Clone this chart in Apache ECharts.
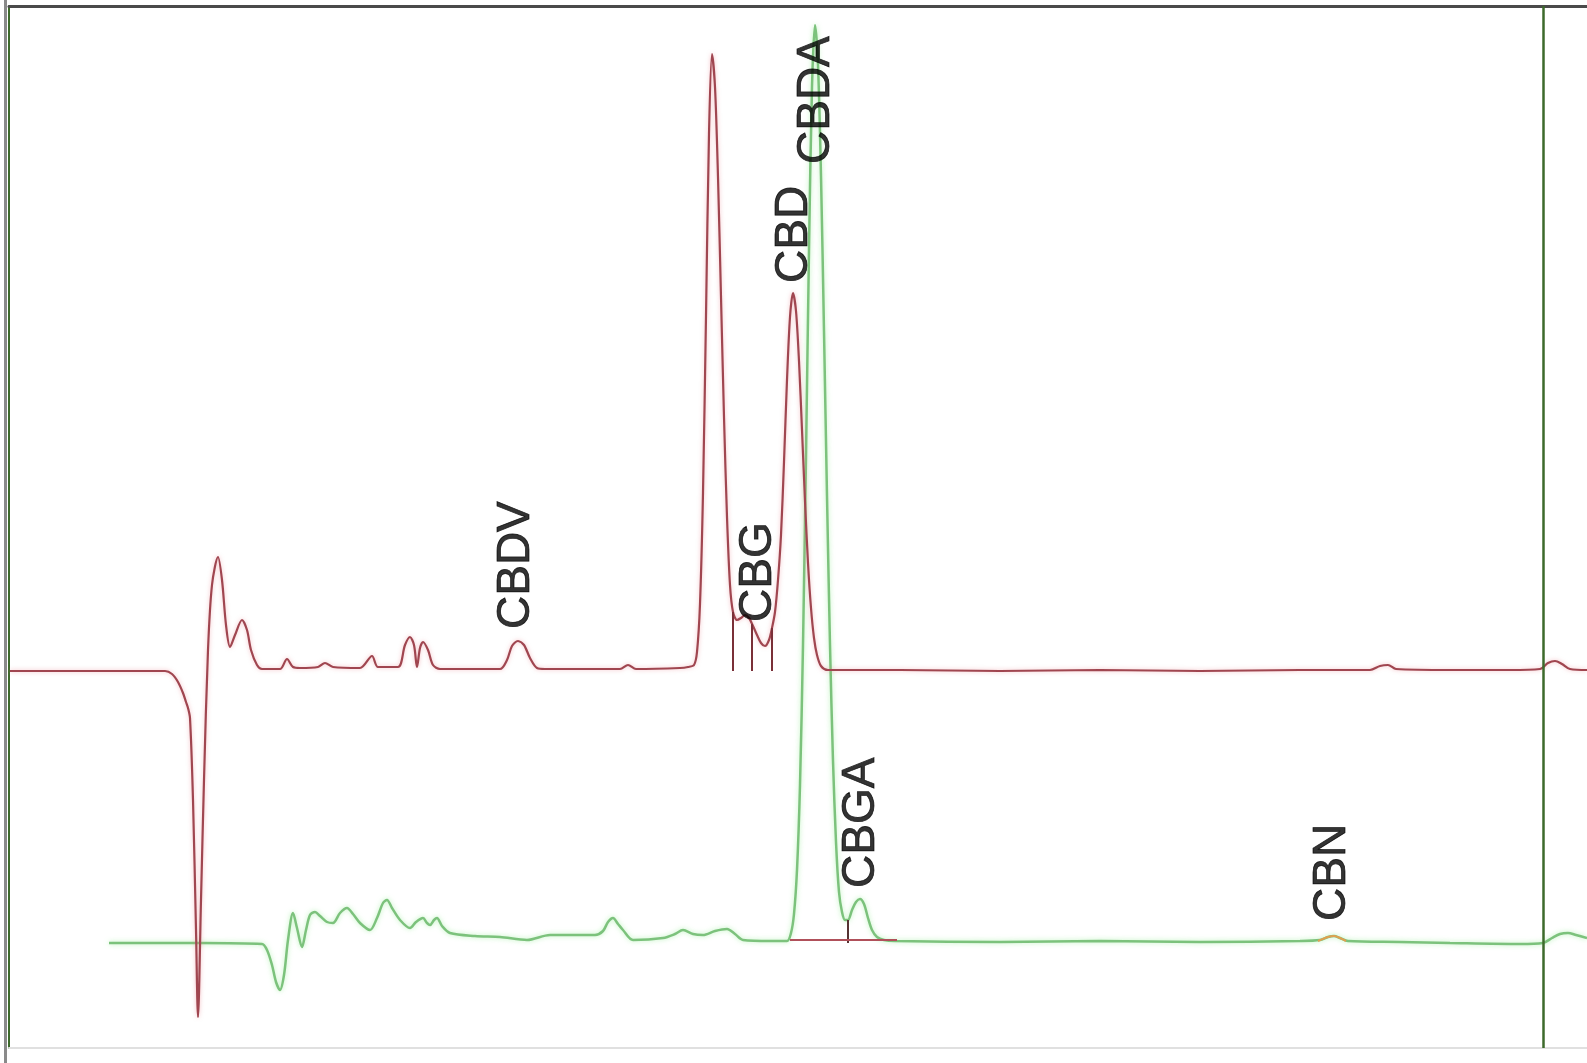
<!DOCTYPE html>
<html>
<head>
<meta charset="utf-8">
<script src="https://cdn.jsdelivr.net/npm/echarts@6/dist/echarts.min.js"></script>
<style>
html,body{margin:0;padding:0;background:#fff;}
#chart{width:1587px;height:1063px;}
</style>
</head>
<body>
<div id="chart"></div>
<script>
// Retention time (min) and detector signal (mAU) of the red trace (channel 1)
const redTime = [0.01,0.91,1.56,1.63,1.69,1.74,1.77,1.79,1.81,1.84,1.87,1.89,1.92,1.95,1.99,2.03,2.09,2.13,2.17,2.21,2.26,2.33,2.38,2.42,2.48,2.53,2.71,2.78,2.84,2.91,3.09,3.16,3.24,3.51,3.63,3.69,3.89,3.96,4.01,4.05,4.08,4.11,4.14,4.19,4.24,4.31,4.91,4.98,5.03,5.09,5.15,5.21,5.28,5.36,6.11,6.19,6.27,6.71,6.79,6.85,6.88,6.91,6.94,6.97,7.00,7.03,7.06,7.09,7.12,7.15,7.18,7.21,7.24,7.28,7.32,7.36,7.40,7.44,7.48,7.52,7.56,7.60,7.63,7.66,7.69,7.72,7.75,7.78,7.81,7.84,7.87,7.90,7.93,7.96,7.99,8.02,8.05,8.08,8.12,8.19,8.91,9.91,10.91,11.91,12.91,13.61,13.71,13.79,13.87,14.41,15.01,15.31,15.39,15.46,15.53,15.61,15.78];
const redSignal = [0,0,0,-3,-11,-22,-31,-37,-47,-129,-259,-346,-229,-109,21,86,114,91,46,24,36,51,41,21,6,2,2,12,4,3,4,8,4,3,15,4,4,26,34,26,4,23,29,21,6,2,2,11,25,30,26,13,3,2,2,6,2,3,4,6,19,67,178,355,537,617,584,494,374,254,154,86,59,51,53,56,53,45,36,28,25,31,43,59,91,136,209,291,354,378,360,310,241,170,108,63,33,16,5,1,1,0,1,0,1,1,5,6,2,1,1,2,8,10,7,2,1];

// Retention time (min) and detector signal (mAU) of the green trace (channel 2)
const greenTime = [1.00,1.91,2.53,2.58,2.63,2.67,2.71,2.75,2.79,2.84,2.88,2.93,2.97,3.01,3.06,3.11,3.18,3.24,3.31,3.38,3.44,3.51,3.61,3.68,3.74,3.78,3.83,3.91,4.01,4.07,4.14,4.18,4.21,4.25,4.28,4.33,4.41,4.66,4.91,5.18,5.41,5.61,5.86,5.94,5.99,6.04,6.09,6.14,6.24,6.54,6.66,6.74,6.84,6.94,7.06,7.18,7.26,7.34,7.61,7.78,7.82,7.85,7.88,7.91,7.94,7.97,8.00,8.03,8.06,8.09,8.12,8.15,8.18,8.21,8.24,8.27,8.30,8.33,8.36,8.39,8.43,8.47,8.51,8.55,8.59,8.63,8.68,8.75,8.86,9.91,10.91,11.91,12.91,13.11,13.19,13.25,13.31,13.39,13.91,14.41,15.11,15.34,15.43,15.51,15.59,15.67,15.78];
const greenSignal = [0,0,-1,-7,-22,-39,-47,-32,3,30,15,-4,13,28,31,27,21,20,30,35,29,20,13,25,40,43,35,23,15,21,25,20,18,23,25,17,10,7,6,3,8,8,8,12,21,25,19,13,3,5,9,13,9,8,12,14,9,3,2,2,10,29,73,158,298,487,693,856,918,878,767,612,447,298,182,101,51,31,23,23,33,41,44,39,25,13,6,3,2,1,2,1,2,3,6,7,5,2,1,0,-1,0,5,9,10,8,5];

// CBN integration mark (green channel)
const cbnTime = [13.09,13.19,13.25,13.31,13.37];
const cbnSignal = [2,6,7,5,2];

// Peak names, retention times and label heights (signal units of their channel)
const peakNames   = ['CBDV','CBG','CBD','CBDA','CBGA','CBN'];
const peakTimes   = [5.07,7.49,7.85,8.07,8.52,13.23];
const peakLabelAt = [42,49,388,779,55,22];
const peakChannel = [0,0,0,1,1,1];

// Integration drop lines: [time, height] per channel
const redDropTimes = [7.24,7.43,7.63];
const redDropHeights = [59,47,43];
const greenDropTimes = [8.39];
const greenDropHeights = [23];
const integrationBaseStart = 7.81, integrationBaseEnd = 8.88, integrationBaseLevel = 3;
const cursorTime = 15.34;

const zip = (a,b) => a.map((v,i)=>[v,b[i]]);

const labelStyle = {
  show:true, formatter:p=>p.name, rotate:90, position:[0,0],
  align:'left', verticalAlign:'middle',
  fontFamily:'Liberation Sans, Arial, sans-serif', fontSize:46, color:'#000',
  textBorderColor:'#000', textBorderWidth:0.8
};
const labelData = ch => peakNames.map((n,i)=>({name:n, value:[peakTimes[i], peakLabelAt[i]], ch:peakChannel[i]})).filter(d=>d.ch===ch).map(d=>({name:d.name,value:d.value}));

const chart = echarts.init(document.getElementById('chart'), null, {renderer:'canvas'});
chart.setOption({
  animation:false,
  backgroundColor:'#ffffff',
  grid:{left:9, right:0, top:6, bottom:15},
  xAxis:[
    {type:'value', position:'top', min:0, max:15.78, axisLine:{show:true, onZero:false, lineStyle:{color:'#4a4a4a', width:3}}, axisTick:{show:false}, axisLabel:{show:false}, splitLine:{show:false}},
    {type:'value', position:'bottom', min:0, max:15.78, axisLine:{show:true, onZero:false, lineStyle:{color:'#e0e0e0', width:2}}, axisTick:{show:false}, axisLabel:{show:false}, splitLine:{show:false}}
  ],
  yAxis:[
    {type:'value', position:'left', min:-377, max:665, axisLine:{show:true, onZero:false, lineStyle:{color:'#3d6a2b', width:2}}, axisTick:{show:false}, axisLabel:{show:false}, splitLine:{show:false}},
    {type:'value', position:'right', min:-105, max:937, axisLine:{show:false}, axisTick:{show:false}, axisLabel:{show:false}, splitLine:{show:false}}
  ],
  graphic:[{type:'line', shape:{x1:5.5,y1:0,x2:5.5,y2:1063}, style:{stroke:'#8a8a8a', lineWidth:3}, z:10}],
  series:[
    {type:'line', name:'Channel 2', xAxisIndex:0, yAxisIndex:1, data:zip(greenTime, greenSignal), showSymbol:false, smooth:0.3,
      lineStyle:{color:'#7cc27c', width:2.5, shadowColor:'rgba(140,235,140,0.6)', shadowBlur:5}, z:2,
      markLine:{silent:true, symbol:'none', label:{show:false}, animation:false,
        data:[
          ...greenDropTimes.map((t,i)=>[{coord:[t,0], lineStyle:{color:'#553333', width:2, type:'solid'}},{coord:[t,greenDropHeights[i]]}]),
          [{coord:[integrationBaseStart,integrationBaseLevel], lineStyle:{color:'#b0505a', width:2, type:'solid'}},{coord:[integrationBaseEnd,integrationBaseLevel]}]
        ]}
    },
    {type:'line', name:'CBN', xAxisIndex:0, yAxisIndex:1, data:zip(cbnTime, cbnSignal), showSymbol:false, smooth:0.3,
      lineStyle:{color:'#e0a050', width:2}, z:3},
    {type:'line', name:'Channel 1', xAxisIndex:0, yAxisIndex:0, data:zip(redTime, redSignal), showSymbol:false, smooth:0.3,
      lineStyle:{color:'#a04650', width:2.2, shadowColor:'rgba(235,130,140,0.5)', shadowBlur:4}, z:4,
      markLine:{silent:true, symbol:'none', label:{show:false}, animation:false,
        data:[
          ...redDropTimes.map((t,i)=>[{coord:[t,0], lineStyle:{color:'#7a3038', width:2, type:'solid'}},{coord:[t,redDropHeights[i]]}]),
          {xAxis:cursorTime, lineStyle:{color:'#3d6a2b', width:2.5, type:'solid'}}
        ]}
    },
    {type:'scatter', xAxisIndex:0, yAxisIndex:0, symbolSize:0, data:labelData(0), label:labelStyle, z:6, silent:true},
    {type:'scatter', xAxisIndex:0, yAxisIndex:1, symbolSize:0, data:labelData(1), label:labelStyle, z:6, silent:true}
  ]
});
</script>
</body>
</html>
